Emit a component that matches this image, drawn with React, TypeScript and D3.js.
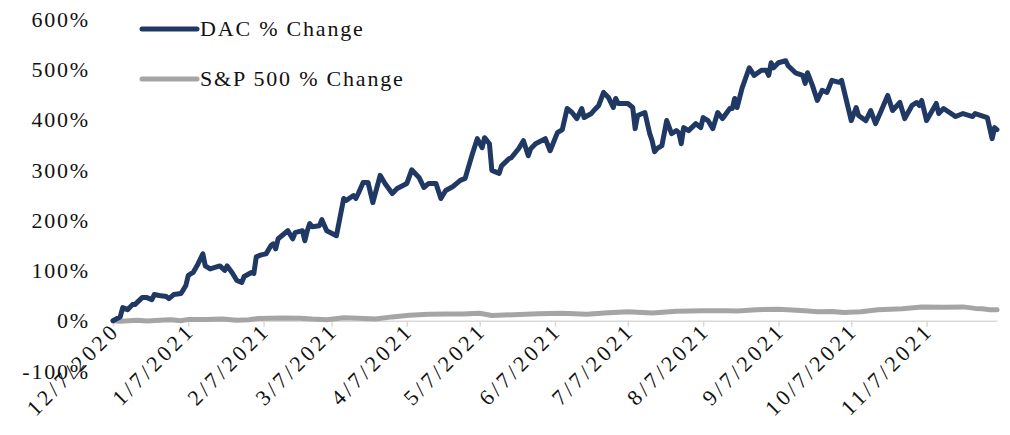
import React, { useEffect, useRef } from "react";
import * as d3 from "d3";

// days counted from 12/7/2020
const dacDays = [0, 3, 4, 6, 8, 9, 12, 14, 16, 17, 19, 22, 23, 25, 28, 30, 31, 33, 35, 37, 38, 40, 44, 46, 47, 49, 51, 53, 54, 57, 58, 59, 61, 63, 65, 66, 67, 68, 72, 74, 75, 78, 79, 80, 81, 82, 85, 86, 88, 92, 95, 96, 99, 100, 101, 103, 105, 107, 110, 112, 115, 117, 121, 123, 126, 128, 130, 133, 135, 137, 140, 143, 145, 148, 150, 152, 153, 155, 156, 159, 160, 163, 164, 167, 169, 171, 172, 174, 178, 180, 183, 185, 187, 189, 191, 193, 194, 197, 198, 200, 202, 204, 206, 207, 208, 212, 214, 215, 216, 219, 221, 222, 223, 224, 226, 228, 230, 232, 233, 234, 235, 237, 240, 242, 243, 245, 247, 249, 251, 254, 255, 256, 257, 259, 262, 264, 267, 269, 270, 271, 272, 274, 277, 278, 281, 284, 285, 286, 288, 290, 292, 294, 296, 299, 300, 304, 306, 307, 310, 312, 314, 316, 319, 321, 324, 326, 329, 331, 332, 333, 335, 339, 340, 342, 347, 350, 354, 355, 360, 362, 363, 364];
const dacValues = [0, 8, 26, 22, 32, 32, 46, 46, 42, 52, 50, 48, 44, 52, 54, 70, 90, 96, 113, 133, 109, 103, 109, 100, 109, 96, 80, 76, 88, 96, 94, 127, 131, 133, 149, 153, 143, 163, 179, 163, 175, 179, 159, 179, 193, 187, 189, 201, 179, 169, 243, 239, 249, 243, 253, 275, 275, 235, 289, 273, 253, 263, 273, 300, 285, 265, 273, 273, 243, 259, 267, 279, 283, 332, 362, 344, 364, 352, 299, 293, 308, 322, 324, 342, 358, 328, 342, 352, 362, 338, 374, 380, 422, 414, 402, 422, 404, 412, 418, 428, 454, 444, 424, 442, 432, 432, 424, 382, 408, 414, 372, 358, 336, 342, 348, 398, 372, 378, 374, 352, 384, 378, 392, 384, 404, 398, 382, 414, 402, 422, 422, 442, 424, 462, 503, 488, 498, 498, 488, 513, 503, 513, 517, 507, 493, 488, 472, 493, 468, 438, 458, 454, 478, 474, 478, 398, 424, 408, 398, 418, 392, 414, 448, 418, 434, 402, 428, 434, 428, 438, 398, 432, 412, 422, 406, 412, 406, 412, 404, 362, 384, 380];

const spDays = [0, 3, 10, 14, 21, 24, 28, 31, 38, 45, 51, 56, 60, 70, 77, 82, 88, 95, 101, 108, 115, 122, 130, 137, 144, 151, 156, 165, 175, 185, 195, 204, 212, 222, 232, 243, 253, 257, 265, 274, 285, 290, 296, 301, 308, 315, 325, 333, 342, 350, 355, 358, 361, 364];
const spValues = [0, -1, 1, -0.5, 1.3, 1.8, 0, 2.6, 2.2, 3.2, 1, 2, 4.5, 5.5, 5, 3.3, 2, 6, 5, 3.5, 7.6, 10.9, 13, 13.4, 13.3, 14.7, 10.3, 12, 14, 14.8, 13, 16, 18, 15.4, 19, 19.6, 20, 19.2, 21.8, 23, 20, 18, 18.5, 16.5, 18, 22, 24, 27.5, 27, 27.5, 24.5, 23.7, 22, 22];

const xTickLabels = ["12/7/2020", "1/7/2021", "2/7/2021", "3/7/2021", "4/7/2021", "5/7/2021", "6/7/2021", "7/7/2021", "8/7/2021", "9/7/2021", "10/7/2021", "11/7/2021"];
const yTicks = [-100, 0, 100, 200, 300, 400, 500, 600];

const seriesNames = ["DAC % Change", "S&P 500 % Change"];
const seriesColors = ["#203864", "#a5a5a5"];

const FONT = "'Liberation Serif', 'Times New Roman', serif";

const App = () => {
  const svgRef = useRef<SVGSVGElement>(null);
  const width = 1010;
  const height = 435;

  useEffect(() => {
    const svg = d3.select(svgRef.current);
    svg.selectAll("*").remove();

    const start = new Date(2020, 11, 7);
    const toDate = (d: number) => d3.timeDay.offset(start, d);
    const parse = d3.timeParse("%m/%d/%Y");

    const x = d3
      .scaleTime()
      .domain([start, toDate(dacDays[dacDays.length - 1])])
      .range([113, 997]);
    const y = d3.scaleLinear().domain([-100, 600]).range([371, 19]);

    // y labels
    svg
      .append("g")
      .selectAll("text")
      .data(yTicks)
      .join("text")
      .attr("x", 90)
      .attr("y", (d) => y(d))
      .attr("dy", "0.35em")
      .attr("text-anchor", "end")
      .style("font-family", FONT)
      .style("font-size", "22px")
      .style("letter-spacing", "1.8px")
      .attr("fill", "#111")
      .text((d) => d + "%");

    // x axis at 0%
    const tickDates = xTickLabels.map((s) => parse(s) as Date);
    const xAxis = d3
      .axisBottom(x)
      .tickValues(tickDates)
      .tickSize(6)
      .tickSizeOuter(0)
      .tickFormat(() => "");

    const gx = svg
      .append("g")
      .attr("transform", `translate(0, ${y(0)})`)
      .call(xAxis);
    gx.select(".domain").attr("stroke", "#d9d9d9").attr("stroke-width", 1.5);
    gx.selectAll(".tick line").attr("stroke", "#d9d9d9").attr("stroke-width", 1.5);

    svg
      .append("g")
      .selectAll("text")
      .data(tickDates)
      .join("text")
      .attr("transform", (d) => `translate(${x(d) + 8}, ${y(0) + 11}) rotate(-45)`)
      .attr("text-anchor", "end")
      .style("font-family", FONT)
      .style("font-size", "22px")
      .style("letter-spacing", "3.5px")
      .attr("fill", "#111")
      .text((d, i) => xTickLabels[i]);

    // lines
    const line = d3
      .line<[number, number]>()
      .x((d) => x(toDate(d[0])))
      .y((d) => y(d[1]));

    const spData: [number, number][] = spDays.map((d, i) => [d, spValues[i]]);
    const dacData: [number, number][] = dacDays.map((d, i) => [d, dacValues[i]]);

    [spData, dacData].forEach((data, k) => {
      svg
        .append("path")
        .datum(data)
        .attr("d", line)
        .attr("fill", "none")
        .attr("stroke", k === 0 ? seriesColors[1] : seriesColors[0])
        .attr("stroke-width", 5)
        .attr("stroke-linejoin", "round")
        .attr("stroke-linecap", "round");
    });

    // legend
    const legend = svg
      .append("g")
      .selectAll("g")
      .data(seriesNames)
      .join("g")
      .attr("transform", (d, i) => `translate(142, ${29 + i * 50})`);
    legend
      .append("line")
      .attr("x1", 0)
      .attr("x2", 55)
      .attr("stroke", (d, i) => seriesColors[i])
      .attr("stroke-width", 5)
      .attr("stroke-linecap", "round");
    legend
      .append("text")
      .attr("x", 58)
      .attr("y", 0)
      .attr("dy", "0.33em")
      .style("font-family", FONT)
      .style("font-size", "22px")
      .style("letter-spacing", "1.8px")
      .attr("fill", "#111")
      .text((d) => d);
  }, []);

  return (
    <div>
      <style>{`body{margin:0;background:#fff;}`}</style>
      <svg ref={svgRef} width={width} height={height}></svg>
    </div>
  );
};

export default App;
